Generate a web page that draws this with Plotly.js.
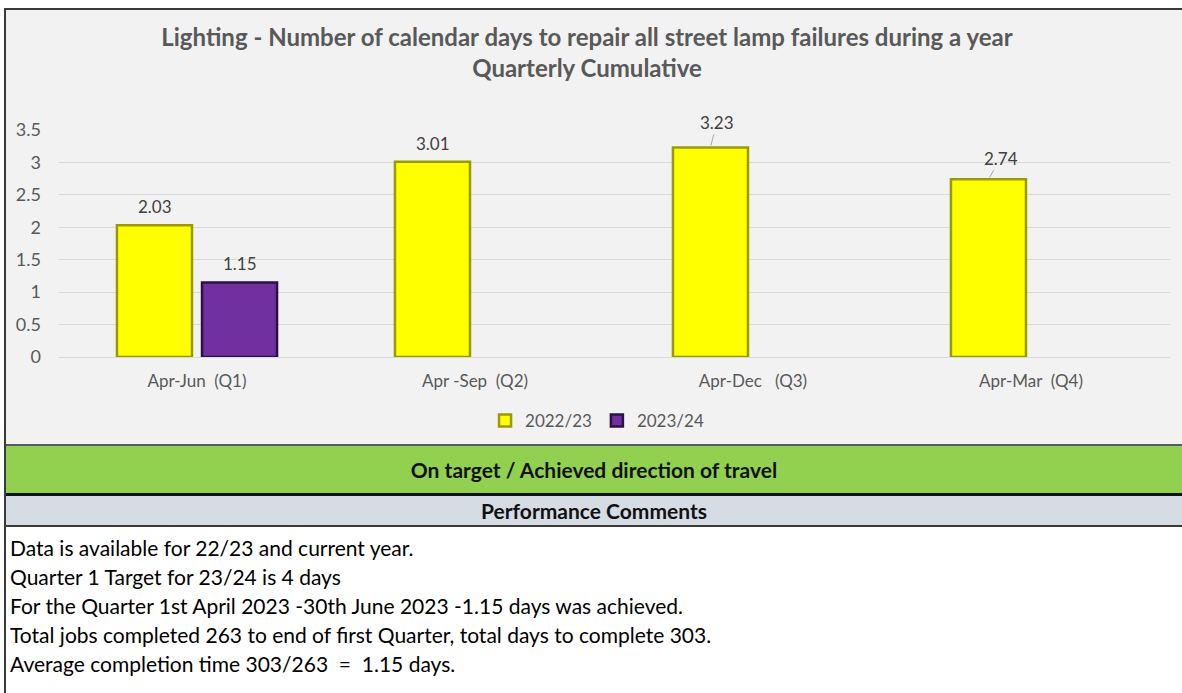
<!DOCTYPE html>
<html>
<head>
<meta charset="utf-8">
<script src="https://cdn.plot.ly/plotly-3.0.1.min.js"></script>
<style>
  html, body { margin: 0; padding: 0; background: #ffffff; width: 1182px; height: 693px; overflow: hidden; }
  #frame { position: absolute; left: 0; top: 0; width: 1182px; height: 693px; font-family: Lato, "Open Sans", sans-serif; }
  #chart { position: absolute; left: 5px; top: 9px; width: 1177px; height: 436px; }
  .vline { position: absolute; left: 4px; top: 8px; width: 2px; height: 685px; background: #3a3a3a; }
  .hline { position: absolute; left: 4px; width: 1178px; }
  .band { position: absolute; left: 6px; width: 1176px; display: flex; align-items: center; justify-content: center; font-weight: bold; color: #111; }
  .comments { position: absolute; left: 10px; top: 533px; font-size: 21px; color: #000; line-height: 29px; white-space: pre; }
</style>
</head>
<body>
<div id="frame">
  <div id="chart"></div>
  <div class="hline" style="top:8px;height:2px;background:#3a3a3a;"></div>
  <div class="hline" style="top:444px;height:2px;background:#595959;"></div>
  <div class="band" id="status" style="top:446px;height:47px;background:#92d050;font-size:21px;"></div>
  <div class="hline" style="top:493px;height:3px;background:#111;"></div>
  <div class="band" id="perfhead" style="top:496px;height:29px;background:#d6dce4;font-size:21px;"></div>
  <div class="hline" style="top:525px;height:2px;background:#3a3a3a;"></div>
  <div class="comments" id="comments"></div>
  <div class="vline"></div>
</div>
<script>
// ---- data ----
const categories = ["Apr-Jun\u00a0\u00a0(Q1)", "Apr -Sep\u00a0\u00a0(Q2)", "Apr-Dec\u00a0\u00a0\u00a0(Q3)", "Apr-Mar\u00a0\u00a0(Q4)"];
const seriesNames = ["2022/23", "2023/24"];
const values2022 = [2.03, 3.01, 3.23, 2.74];
const values2023 = [1.15, null, null, null];
const yTicks = [0, 0.5, 1, 1.5, 2, 2.5, 3, 3.5];
const titleLines = ["Lighting - Number of calendar days to repair all street lamp failures during a year", "Quarterly Cumulative"];
const statusText = "On target / Achieved direction of travel";
const commentsHeader = "Performance Comments";
const commentLines = [
  "Data is available for 22/23 and current year.",
  "Quarter 1 Target for 23/24 is 4 days",
  "For the Quarter 1st April 2023 -30th June 2023 -1.15 days was achieved.",
  "Total jobs completed 263 to end of first Quarter, total days to complete 303.",
  "Average completion time 303/263  =  1.15 days."
];

document.getElementById('status').textContent = statusText;
document.getElementById('perfhead').textContent = commentsHeader;
const cEl = document.getElementById('comments');
commentLines.forEach(s => { const d = document.createElement('div'); d.textContent = s; cEl.appendChild(d); });

const FONT = 'Lato, "Open Sans", sans-serif';
const traces = [
  { type: 'bar', name: seriesNames[0], x: categories, y: values2022,
    marker: { color: '#ffff00', line: { color: '#9a9a00', width: 2.5 } }, hoverinfo: 'none' },
  { type: 'bar', name: seriesNames[1], x: categories, y: values2023,
    marker: { color: '#7030a0', line: { color: '#2e1045', width: 2.5 } }, hoverinfo: 'none' }
];

// data label annotations
const labelAnns = [];
const leader = [false, false, true, true];
const leaderOff = [[6, -25], [12, -21]];
const LBL = { family: FONT, size: 17, color: '#404040' };
values2022.forEach((v, i) => {
  if (v === null) return;
  const a = { x: categories[i], y: v, text: v.toFixed(2), xshift: -42.5, font: LBL };
  if (leader[i]) {
    const o = leaderOff[i - 2];
    Object.assign(a, { showarrow: true, ax: o[0], ay: o[1], arrowhead: 0,
      arrowwidth: 1, arrowcolor: '#a6a6a6', standoff: 2 });
  } else {
    Object.assign(a, { showarrow: false, yanchor: 'bottom', yshift: 6 });
  }
  labelAnns.push(a);
});
values2023.forEach((v, i) => {
  if (v === null) return;
  labelAnns.push({ x: categories[i], y: v, text: v.toFixed(2), xshift: 42.5, showarrow: false,
    yanchor: 'bottom', yshift: 6, font: LBL });
});

const layout = {
  width: 1177, height: 436,
  paper_bgcolor: '#f2f2f2', plot_bgcolor: '#f2f2f2',
  margin: { l: 53, r: 12, t: 121, b: 88 },
  font: { family: FONT, color: '#595959' },
  title: { text: titleLines.join('<br>'), font: { family: FONT, size: 24, color: '#595959', weight: 'bold' },
    x: 0.4945, xref: 'container', xanchor: 'center', y: 0.915, yref: 'container', yanchor: 'middle' },
  barmode: 'group', bargap: 0.388, bargroupgap: 0.118,
  xaxis: { type: 'category', tickfont: { family: FONT, size: 17, color: '#595959' }, showgrid: false,
    showline: false, zeroline: false, ticks: '', ticklabelstandoff: 12 },
  yaxis: { range: [0, 3.5], tickvals: yTicks, ticktext: yTicks.map(String), showgrid: true,
    gridcolor: '#d9d9d9', gridwidth: 1, zeroline: true, zerolinecolor: '#d9d9d9', zerolinewidth: 1,
    tickfont: { family: FONT, size: 18, color: '#595959' }, ticks: '', ticklabelstandoff: 16 },
  showlegend: true,
  legend: { orientation: 'h', x: 0.503, xref: 'container', xanchor: 'center', y: 0.055, yref: 'container',
    yanchor: 'middle', font: { family: FONT, size: 17, color: '#595959' }, bgcolor: 'rgba(0,0,0,0)',
    itemwidth: 30, tracegroupgap: 0 },
  annotations: labelAnns
};

Plotly.newPlot('chart', traces, layout, { staticPlot: true, displayModeBar: false });
</script>
</body>
</html>
